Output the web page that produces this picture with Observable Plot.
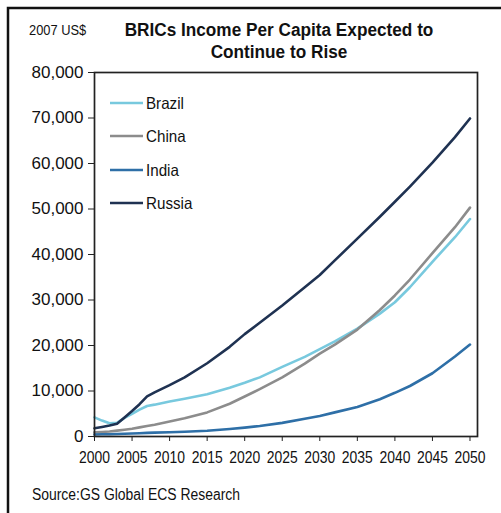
<!DOCTYPE html>
<html><head><meta charset="utf-8">
<script src="https://cdn.jsdelivr.net/npm/d3@7"></script>
<script src="https://cdn.jsdelivr.net/npm/@observablehq/plot@0.6"></script>
<style>
body{margin:0;background:#fff;}
#wrap{position:relative;width:501px;height:513px;overflow:hidden;background:#fff;}
#wrap svg{position:absolute;left:0;top:0;}
</style>
</head><body>
<div id="wrap"></div>
<script>
const FONT = '"Liberation Sans Narrow","Arial Narrow","Liberation Sans",Arial,sans-serif';

const titleLines = ["BRICs Income Per Capita Expected to", "Continue to Rise"];
const unitLabel = "2007 US$";
const sourceText = "Source:GS Global ECS Research";

const years  = [2000,2001,2002,2003,2004,2005,2006,2007,2008,2010,2012,2015,2018,2020,2022,2025,2028,2030,2032,2035,2038,2040,2042,2045,2048,2050];
const brazil = [4200,3500,2900,3000,4100,5000,5900,6700,7000,7700,8300,9300,10700,11800,13000,15300,17500,19200,20900,23700,27000,29500,32800,38400,43800,47800];
const china  = [900,1000,1100,1300,1500,1700,2000,2300,2600,3300,4000,5300,7200,8800,10400,13000,16000,18200,20200,23500,27800,31000,34500,40300,46000,50300];
const india  = [450,480,500,550,600,650,720,790,850,950,1050,1250,1650,1950,2300,3000,3900,4500,5300,6500,8200,9600,11100,13900,17600,20200];
const russia = [1800,2100,2400,2800,4200,5600,7100,8800,9700,11300,13000,16100,19700,22500,25000,28800,32800,35500,38700,43500,48300,51600,54900,60200,65800,69900];

const seriesNames  = ["Brazil","China","India","Russia"];
const seriesValues = [brazil, china, india, russia];
const seriesColors = ["#78c9de","#8c8c8c","#2e6fa7","#1f3252"];

const xTicks = [2000,2005,2010,2015,2020,2025,2030,2035,2040,2045,2050];
const yTicks = [0,10000,20000,30000,40000,50000,60000,70000,80000];

const rows = [];
seriesNames.forEach((name, i) => years.forEach((yr, j) => rows.push({country: name, year: yr, value: seriesValues[i][j]})));

const chart = Plot.plot({
  width: 501, height: 513,
  marginLeft: 94, marginRight: 24, marginTop: 72, marginBottom: 77,
  style: {fontFamily: FONT, fontSize: "17px", color: "#111", background: "transparent"},
  x: {domain: [2000, 2051]},
  y: {domain: [0, 80000]},
  color: {domain: seriesNames, range: seriesColors},
  marks: [
    Plot.line(rows, {x: "year", y: "value", z: "country", stroke: "country", strokeWidth: 2.6, curve: "linear"}),
    Plot.frame({stroke: "#222", strokeWidth: 1.7}),
    Plot.axisX({ticks: xTicks, tickFormat: d => String(d), tickSize: 5, tickPadding: 9, fontSize: 17, label: null, stroke: "#222"}),
    Plot.axisY({ticks: yTicks, tickFormat: d3.format(","), tickSize: 6, tickPadding: 5, fontSize: 17, label: null, stroke: "#222"})
  ]
});
document.getElementById("wrap").appendChild(chart);

// condense text horizontally (narrow face is not installed)
function condense(node, s) {
  const t = node.getAttribute("transform") || "";
  const x = +node.getAttribute("x") || 0, y = +node.getAttribute("y") || 0;
  node.setAttribute("transform", `${t} translate(${x},${y}) scale(${s},1) translate(${-x},${-y})`);
}
chart.querySelectorAll('g[aria-label="x-axis tick label"] text').forEach(n => condense(n, 0.82));

// overlay: border, titles, legend, source
const W = 501, H = 513;
const ov = d3.select("#wrap").append("svg").attr("width", W).attr("height", H)
  .style("font-family", FONT).style("pointer-events", "none");
ov.append("path").attr("d", `M8,${H} V8 H${W}`).attr("fill", "none").attr("stroke", "#111").attr("stroke-width", 2.5);

ov.append("text").attr("x", 29).attr("y", 35).attr("font-size", 14).attr("fill", "#111").text(unitLabel)
  .each(function(){ condense(this, 0.92); });
titleLines.forEach((t, i) => ov.append("text").attr("x", 279).attr("y", 36 + i * 22)
  .attr("text-anchor", "middle").attr("font-size", 18.5).attr("font-weight", "bold").attr("fill", "#111").text(t)
  .each(function(){ condense(this, 0.93); }));

const legY = [103, 136, 170, 203];
seriesNames.forEach((name, i) => {
  ov.append("line").attr("x1", 110).attr("x2", 143).attr("y1", legY[i]).attr("y2", legY[i])
    .attr("stroke", seriesColors[i]).attr("stroke-width", 2.6);
  ov.append("text").attr("x", 146).attr("y", legY[i]).attr("dy", "0.36em").attr("font-size", 16.5)
    .attr("fill", "#111").text(name).each(function(){ condense(this, 0.92); });
});

ov.append("text").attr("x", 32).attr("y", 500).attr("font-size", 16).attr("fill", "#111").text(sourceText)
  .each(function(){ condense(this, 0.87); });
</script>
</body></html>
